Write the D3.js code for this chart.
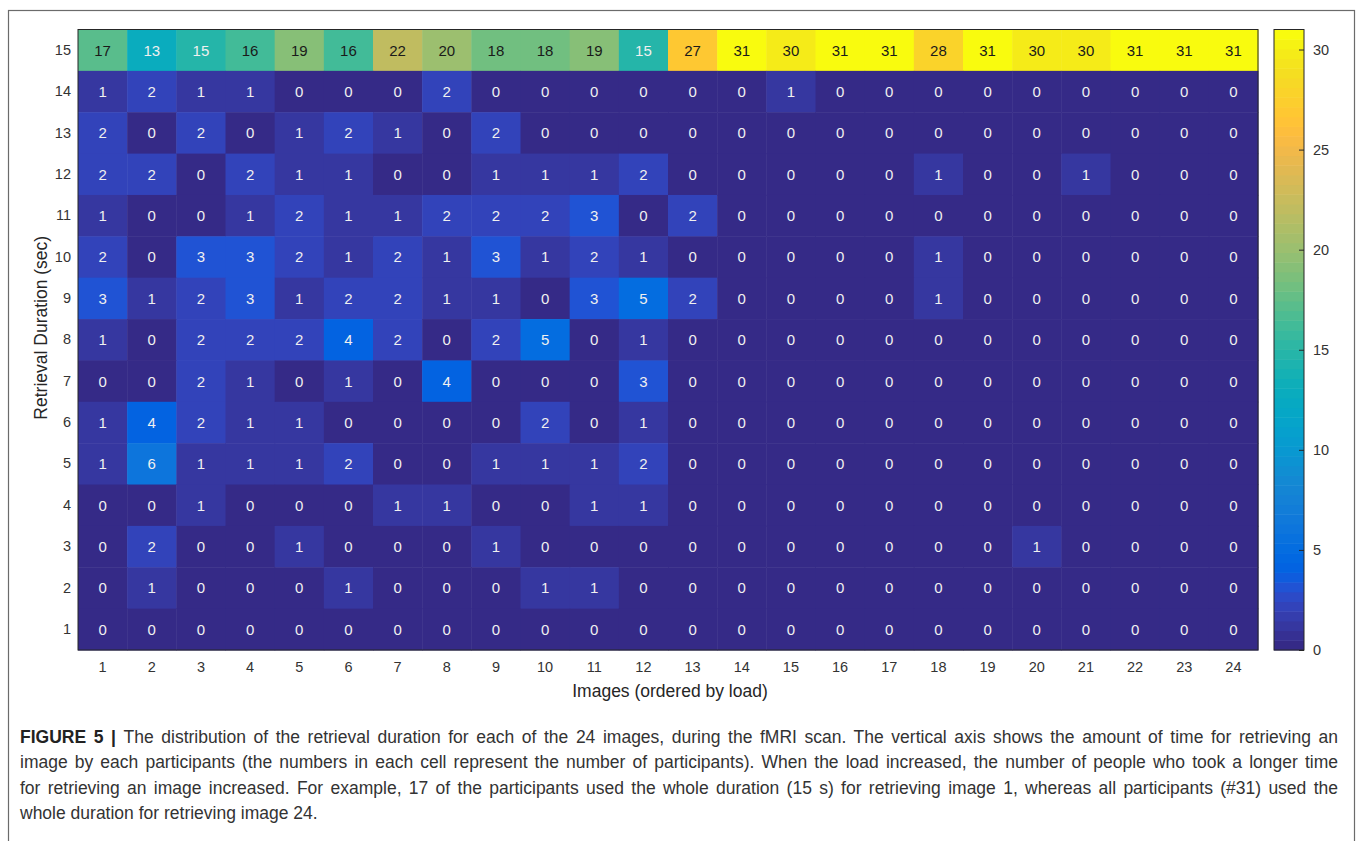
<!DOCTYPE html>
<html>
<head>
<meta charset="utf-8">
<script src="https://cdn.jsdelivr.net/npm/d3@7"></script>
<style>
  html, body { margin: 0; padding: 0; background: #fff; }
  svg { display: block; }
</style>
</head>
<body>
<svg id="chart" width="1360" height="841"></svg>
<script>
// ---------- DATA ----------
const images = d3.range(1, 25);            // x categories: 1..24
const durations = d3.range(15, 0, -1);      // y categories: 15 (top) .. 1 (bottom)
// counts[r] corresponds to durations[r] (15 down to 1), columns are images 1..24
const row15 = [17,13,15,16,19,16,22,20,18,18,19,15,27,31,30,31,31,28,31,30,30,31,31,31];
const row14 = [1,2,1,1,0,0,0,2,0,0,0,0,0,0,1,0,0,0,0,0,0,0,0,0];
const row13 = [2,0,2,0,1,2,1,0,2,0,0,0,0,0,0,0,0,0,0,0,0,0,0,0];
const row12 = [2,2,0,2,1,1,0,0,1,1,1,2,0,0,0,0,0,1,0,0,1,0,0,0];
const row11 = [1,0,0,1,2,1,1,2,2,2,3,0,2,0,0,0,0,0,0,0,0,0,0,0];
const row10 = [2,0,3,3,2,1,2,1,3,1,2,1,0,0,0,0,0,1,0,0,0,0,0,0];
const row9  = [3,1,2,3,1,2,2,1,1,0,3,5,2,0,0,0,0,1,0,0,0,0,0,0];
const row8  = [1,0,2,2,2,4,2,0,2,5,0,1,0,0,0,0,0,0,0,0,0,0,0,0];
const row7  = [0,0,2,1,0,1,0,4,0,0,0,3,0,0,0,0,0,0,0,0,0,0,0,0];
const row6  = [1,4,2,1,1,0,0,0,0,2,0,1,0,0,0,0,0,0,0,0,0,0,0,0];
const row5  = [1,6,1,1,1,2,0,0,1,1,1,2,0,0,0,0,0,0,0,0,0,0,0,0];
const row4  = [0,0,1,0,0,0,1,1,0,0,1,1,0,0,0,0,0,0,0,0,0,0,0,0];
const row3  = [0,2,0,0,1,0,0,0,1,0,0,0,0,0,0,0,0,0,0,1,0,0,0,0];
const row2  = [0,1,0,0,0,1,0,0,0,1,1,0,0,0,0,0,0,0,0,0,0,0,0,0];
const row1  = [0,0,0,0,0,0,0,0,0,0,0,0,0,0,0,0,0,0,0,0,0,0,0,0];
const counts = [row15,row14,row13,row12,row11,row10,row9,row8,row7,row6,row5,row4,row3,row2,row1];
const colorbarTicks = [0,5,10,15,20,25,30];
const colorMax = 31;

const xTitle = "Images (ordered by load)";
const yTitle = "Retrieval Duration (sec)";
const captionLines = [
  {bold: "FIGURE 5 | ", text: "The distribution of the retrieval duration for each of the 24 images, during the fMRI scan. The vertical axis shows the amount of time for retrieving an"},
  {bold: "", text: "image by each participants (the numbers in each cell represent the number of participants). When the load increased, the number of people who took a longer time"},
  {bold: "", text: "for retrieving an image increased. For example, 17 of the participants used the whole duration (15 s) for retrieving image 1, whereas all participants (#31) used the"},
  {bold: "", text: "whole duration for retrieving image 24."}
];

// MATLAB parula (64 entries) colormap
const parula = [
[0.2081,0.1663,0.5292],[0.2116,0.1898,0.5777],[0.2123,0.2138,0.6270],[0.2081,0.2386,0.6771],
[0.1959,0.2645,0.7279],[0.1707,0.2919,0.7792],[0.1253,0.3242,0.8303],[0.0591,0.3598,0.8683],
[0.0117,0.3875,0.8820],[0.0060,0.4086,0.8828],[0.0165,0.4266,0.8786],[0.0329,0.4430,0.8720],
[0.0498,0.4586,0.8641],[0.0629,0.4737,0.8554],[0.0723,0.4887,0.8467],[0.0779,0.5040,0.8384],
[0.0793,0.5200,0.8312],[0.0749,0.5375,0.8263],[0.0641,0.5570,0.8240],[0.0488,0.5772,0.8228],
[0.0343,0.5966,0.8199],[0.0265,0.6137,0.8135],[0.0239,0.6287,0.8038],[0.0231,0.6418,0.7913],
[0.0228,0.6535,0.7768],[0.0267,0.6642,0.7607],[0.0384,0.6743,0.7436],[0.0590,0.6838,0.7254],
[0.0843,0.6928,0.7062],[0.1133,0.7015,0.6859],[0.1453,0.7098,0.6646],[0.1801,0.7177,0.6424],
[0.2178,0.7250,0.6193],[0.2586,0.7317,0.5954],[0.3022,0.7376,0.5712],[0.3482,0.7424,0.5473],
[0.3953,0.7459,0.5244],[0.4420,0.7481,0.5033],[0.4871,0.7491,0.4840],[0.5300,0.7491,0.4661],
[0.5709,0.7485,0.4494],[0.6099,0.7473,0.4337],[0.6473,0.7456,0.4188],[0.6834,0.7435,0.4044],
[0.7184,0.7411,0.3905],[0.7525,0.7384,0.3768],[0.7858,0.7356,0.3633],[0.8185,0.7327,0.3498],
[0.8507,0.7299,0.3360],[0.8824,0.7274,0.3217],[0.9139,0.7258,0.3063],[0.9450,0.7261,0.2886],
[0.9739,0.7314,0.2666],[0.9938,0.7455,0.2403],[0.9990,0.7653,0.2164],[0.9955,0.7861,0.1967],
[0.9880,0.8066,0.1794],[0.9789,0.8271,0.1633],[0.9697,0.8481,0.1475],[0.9626,0.8705,0.1309],
[0.9589,0.8949,0.1132],[0.9598,0.9218,0.0948],[0.9661,0.9514,0.0755],[0.9763,0.9831,0.0538]
].map(c => d3.rgb(c[0]*255, c[1]*255, c[2]*255).formatHex());

// ---------- LAYOUT ----------
const svg = d3.select("#chart");
const font = "'Liberation Sans', Arial, Helvetica, sans-serif";
const plot = {left: 78, top: 29.5, right: 1258, bottom: 650};
const cbar = {left: 1274, right: 1304, top: 29.5, bottom: 650};

const x = d3.scaleBand().domain(images).range([plot.left, plot.right]).padding(0);
const y = d3.scaleBand().domain(durations).range([plot.top, plot.bottom]).padding(0);
const color = d3.scaleQuantize().domain([0, colorMax]).range(parula);
const cy = d3.scaleLinear().domain([0, colorMax]).range([cbar.bottom, cbar.top]);

// figure frame
svg.append("rect").attr("x", 8.5).attr("y", 10.5).attr("width", 1346).attr("height", 840)
  .attr("fill", "none").attr("stroke", "#6b6b6b").attr("stroke-width", 1.2);

// cells
const cells = [];
counts.forEach((row, r) => row.forEach((v, c) => cells.push({dur: durations[r], img: images[c], v})));

const g = svg.append("g");
g.selectAll("rect.cell").data(cells).join("rect")
  .attr("class", "cell")
  .attr("x", d => x(d.img)).attr("y", d => y(d.dur))
  .attr("width", x.bandwidth() + 0.5).attr("height", y.bandwidth() + 0.5)
  .attr("fill", d => color(d.v));

g.selectAll("text.val").data(cells).join("text")
  .attr("class", "val")
  .attr("x", d => x(d.img) + x.bandwidth() / 2)
  .attr("y", d => y(d.dur) + y.bandwidth() / 2)
  .attr("dy", "0.36em")
  .attr("text-anchor", "middle")
  .attr("font-family", font).attr("font-size", 15)
  .attr("fill", d => d.v >= 16 ? "#1a1a1a" : "#f0f0f0")
  .text(d => d.v);

// plot border
svg.append("rect").attr("x", plot.left).attr("y", plot.top)
  .attr("width", plot.right - plot.left).attr("height", plot.bottom - plot.top)
  .attr("fill", "none").attr("stroke", "#262626").attr("stroke-width", 1);

// axes (labels only, no tick marks)
const xAxis = svg.append("g").attr("transform", `translate(0,${plot.bottom})`)
  .call(d3.axisBottom(x).tickSize(0).tickPadding(12));
xAxis.select(".domain").remove();
xAxis.selectAll("text").attr("font-family", font).attr("font-size", 14.5).attr("fill", "#333");

const yAxis = svg.append("g").attr("transform", `translate(${plot.left},0)`)
  .call(d3.axisLeft(y).tickSize(0).tickPadding(7));
yAxis.select(".domain").remove();
yAxis.selectAll("text").attr("font-family", font).attr("font-size", 14.5).attr("fill", "#333");

// axis titles
svg.append("text").attr("x", (plot.left + plot.right) / 2 + 2).attr("y", 697)
  .attr("text-anchor", "middle").attr("font-family", font).attr("font-size", 17.5)
  .attr("fill", "#262626").text(xTitle);
svg.append("text").attr("transform", `translate(47,${(plot.top + plot.bottom) / 2 - 12}) rotate(-90)`)
  .attr("text-anchor", "middle").attr("font-family", font).attr("font-size", 17.5)
  .attr("fill", "#262626").text(yTitle);

// colorbar
const bands = parula.map(c => {
  const [a, b] = color.invertExtent(c);
  return {c, a, b};
});
svg.append("g").selectAll("rect").data(bands).join("rect")
  .attr("x", cbar.left).attr("width", cbar.right - cbar.left)
  .attr("y", d => cy(d.b)).attr("height", d => cy(d.a) - cy(d.b) + 0.5)
  .attr("fill", d => d.c);
svg.append("rect").attr("x", cbar.left).attr("y", cbar.top)
  .attr("width", cbar.right - cbar.left).attr("height", cbar.bottom - cbar.top)
  .attr("fill", "none").attr("stroke", "#262626").attr("stroke-width", 1);

const cAxis = svg.append("g").attr("transform", `translate(${cbar.right},0)`)
  .call(d3.axisRight(cy).tickValues(colorbarTicks).tickSizeInner(-5).tickSizeOuter(0).tickPadding(9));
cAxis.select(".domain").remove();
cAxis.selectAll("line").attr("stroke", "#262626");
cAxis.selectAll("text").attr("font-family", font).attr("font-size", 14.5).attr("fill", "#333");

// caption: lines 1-3 justified to the full width, last line natural
const capX = 20, capY0 = 742.5, capStep = 25.6, capFs = 17.5;
const justifyWidth = 1318;
const capNodes = captionLines.map(ln => {
  const t = svg.append("text").attr("x", 0).attr("y", 0)
    .attr("font-family", font).attr("font-size", capFs).attr("fill", "#333");
  if (ln.bold) t.append("tspan").attr("font-weight", "bold").attr("fill", "#222").text(ln.bold);
  t.append("tspan").text(ln.text);
  return t;
});
const natural = capNodes.map(t => t.node().getComputedTextLength());
// horizontal condensing so that the longest justified line fits without negative spacing
const k = Math.min(1, justifyWidth / d3.max(natural.slice(0, 3)));
capNodes.forEach((t, i) => {
  const isLast = i === captionLines.length - 1;
  if (!isLast) {
    const full = (captionLines[i].bold + captionLines[i].text);
    const nSpaces = (full.trimEnd().match(/ /g) || []).length;
    const ws = (justifyWidth / k - natural[i]) / nSpaces;
    t.attr("word-spacing", ws);
  }
  t.attr("transform", `translate(${capX},${capY0 + i * capStep}) scale(${k},1)`);
});
</script>
</body>
</html>
